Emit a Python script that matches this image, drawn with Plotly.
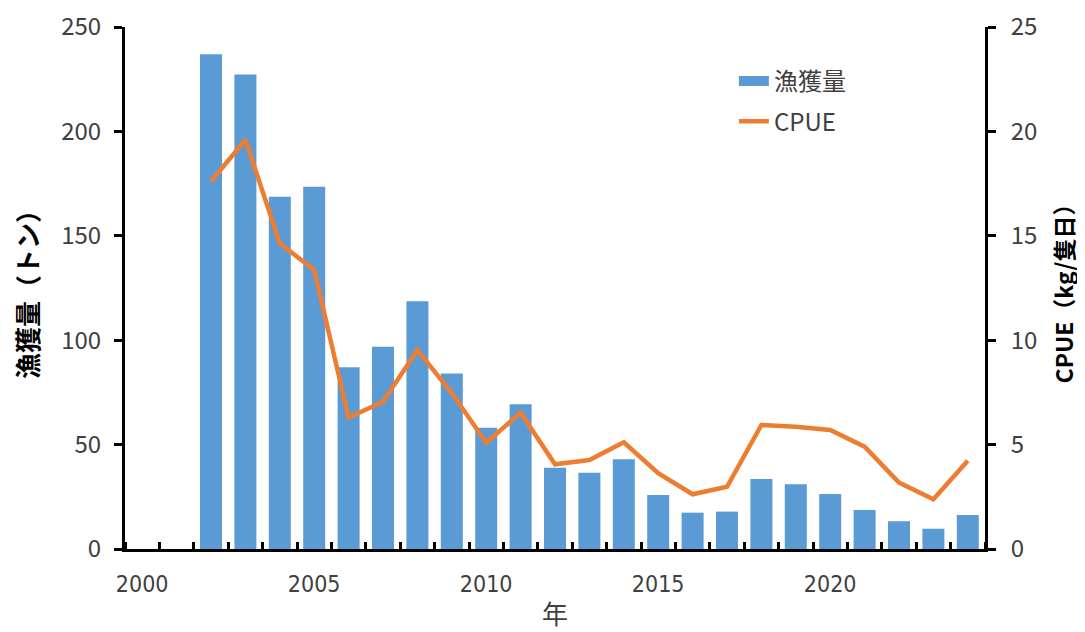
import plotly.graph_objects as go

years = list(range(2002, 2025))
catch = [236.9, 227.3, 168.7, 173.5, 87.0, 96.9, 118.6, 84.1, 58.1, 69.3, 38.9, 36.5,
         43.0, 25.9, 17.4, 17.9, 33.5, 31.0, 26.3, 18.7, 13.3, 9.7, 16.3]
cpue = [17.6, 19.6, 14.64, 13.36, 6.29, 7.05, 9.53, 7.47, 5.09, 6.53, 4.06, 4.26,
        5.11, 3.63, 2.62, 2.98, 5.94, 5.86, 5.70, 4.90, 3.18, 2.38, 4.23]
x_ticks = [2000, 2005, 2010, 2015, 2020]
y1_ticks = [0, 50, 100, 150, 200, 250]
y2_ticks = [0, 5, 10, 15, 20, 25]

FONT = "Noto Sans CJK JP, Open Sans, sans-serif"
GRAY = "#404040"
BAR_C = "#5B9BD5"
LINE_C = "#ED7D31"

fig = go.Figure()
fig.add_trace(go.Bar(x=years, y=catch, name="漁獲量", marker_color=BAR_C,
                     marker_line_width=0, width=0.64, yaxis="y", showlegend=False))
# legend entry for bars (wide rectangle symbol like the reference)
fig.add_trace(go.Scatter(x=[None], y=[None], name="漁獲量", mode="lines",
                         line=dict(color=BAR_C, width=14), legendgroup="a"))
fig.add_trace(go.Scatter(x=years, y=cpue, name="CPUE", mode="lines",
                         line=dict(color=LINE_C, width=4.5), yaxis="y2", legendgroup="b"))

fig.update_layout(
    width=1077, height=624,
    margin=dict(l=117, r=100, t=19, b=83, autoexpand=False),
    plot_bgcolor="white", paper_bgcolor="white",
    font=dict(family=FONT, color=GRAY, size=20),
    showlegend=True,
    legend=dict(x=0.708, y=0.939, xanchor="left", yanchor="top",
                font=dict(size=24, color=GRAY), bgcolor="rgba(0,0,0,0)",
                tracegroupgap=6),
    xaxis=dict(range=[1999.5, 2024.5], tickvals=x_ticks, ticktext=[str(v) for v in x_ticks],
               ticks="", showline=True, linecolor="black", linewidth=3, showgrid=False,
               zeroline=False, automargin=False,
               tickfont=dict(size=23, color=GRAY,
                             family="Liberation Sans Narrow, DejaVu Sans Condensed, sans-serif"),
               ticklabelstandoff=12, ticklabeloverflow="allow",
               minor=dict(tick0=1999.5, dtick=1, ticks="inside", ticklen=7,
                          tickwidth=3, tickcolor="black", showgrid=False),
               title=dict(text="年", font=dict(size=26, color=GRAY), standoff=11)),
    yaxis=dict(range=[0, 250], tickvals=y1_ticks, ticks="outside", ticklen=8, tickwidth=3,
               tickcolor="black", showline=True, linecolor="black", linewidth=3,
               showgrid=False, zeroline=False, automargin=False,
               tickfont=dict(size=24, color=GRAY),
               ticklabelstandoff=8, ticklabeloverflow="allow",
               title=dict(text="<b>漁獲量（トン）</b>", font=dict(size=26, color="black"),
                          standoff=17)),
    yaxis2=dict(range=[0, 25], tickvals=y2_ticks, ticks="outside", ticklen=8, tickwidth=3,
                tickcolor="black", showline=True, linecolor="black", linewidth=3,
                overlaying="y", side="right", showgrid=False, zeroline=False,
                automargin=False,
                tickfont=dict(size=24, color=GRAY), ticklabelstandoff=10,
                ticklabeloverflow="allow",
                title=dict(text="<b>CPUE（kg/隻日）</b>", font=dict(size=23, color="black"),
                           standoff=21)),
)

fig.write_html("out.html")
